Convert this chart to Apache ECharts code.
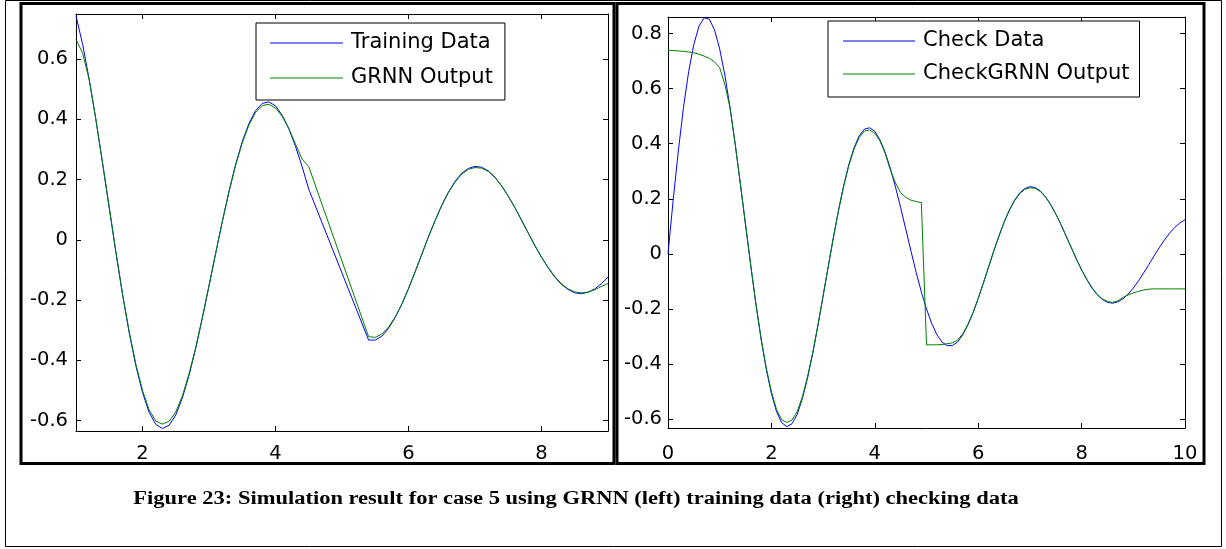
<!DOCTYPE html>
<html><head><meta charset="utf-8">
<script src="https://cdn.jsdelivr.net/npm/echarts@6/dist/echarts.min.js"></script>
<style>html,body{margin:0;padding:0;background:#fff}#c{width:1226px;height:549px}</style>
</head><body><div id="c"></div>
<script>
// ---- Left panel: training data ----
const trainX = [1.0,1.1,1.2,1.3,1.4,1.5,1.6,1.7,1.8,1.9,2.0,2.1,2.2,2.3,2.4,2.5,2.6,2.7,2.8,2.9,3.0,3.1,3.2,3.3,3.4,3.5,3.6,3.7,3.8,3.9,4.0,4.1,4.2,4.3,4.4,4.5,
  5.4,5.5,5.6,5.7,5.8,5.9,6.0,6.1,6.2,6.3,6.4,6.5,6.6,6.7,6.8,6.9,7.0,7.1,7.2,7.3,7.4,7.5,7.6,7.7,7.8,7.9,8.0,8.1,8.2,8.3,8.4,8.5,8.6,8.7,8.8,8.9,9.0];
const trainingData = [0.744,0.649,0.531,0.398,0.253,0.105,-0.042,-0.182,-0.309,-0.418,-0.507,-0.573,-0.613,-0.627,-0.616,-0.582,-0.525,-0.450,-0.361,-0.260,-0.153,-0.045,0.061,0.161,0.250,0.326,0.386,0.429,0.453,0.458,0.445,0.414,0.369,0.311,0.243,0.168,
  -0.333,-0.333,-0.320,-0.294,-0.258,-0.214,-0.162,-0.106,-0.048,0.010,0.064,0.115,0.158,0.194,0.221,0.237,0.244,0.241,0.229,0.208,0.180,0.145,0.107,0.065,0.023,-0.019,-0.058,-0.093,-0.124,-0.148,-0.165,-0.176,-0.179,-0.174,-0.163,-0.146,-0.124];
const grnnOutput = [0.665,0.620,0.530,0.398,0.255,0.108,-0.040,-0.180,-0.305,-0.413,-0.500,-0.565,-0.602,-0.612,-0.603,-0.572,-0.518,-0.445,-0.358,-0.258,-0.152,-0.045,0.060,0.158,0.247,0.322,0.381,0.423,0.446,0.450,0.438,0.410,0.370,0.318,0.268,0.243,
  -0.322,-0.324,-0.313,-0.290,-0.256,-0.213,-0.162,-0.106,-0.048,0.010,0.064,0.114,0.157,0.192,0.218,0.234,0.240,0.238,0.227,0.207,0.179,0.145,0.107,0.065,0.023,-0.019,-0.057,-0.092,-0.122,-0.146,-0.163,-0.173,-0.176,-0.174,-0.166,-0.155,-0.145];

// ---- Right panel: checking data ----
const checkX = [0.0,0.1,0.2,0.3,0.4,0.5,0.6,0.7,0.8,0.9,1.0,1.1,1.2,1.3,1.4,1.5,1.6,1.7,1.8,1.9,2.0,2.1,2.2,2.3,2.4,2.5,2.6,2.7,2.8,2.9,3.0,3.1,3.2,3.3,3.4,3.5,3.6,3.7,3.8,3.9,4.0,4.1,4.2,4.3,4.4,4.5,4.6,4.7,4.8,4.9,5.0,5.1,5.2,5.3,5.4,5.5,5.6,5.7,5.8,5.9,6.0,6.1,6.2,6.3,6.4,6.5,6.6,6.7,6.8,6.9,7.0,7.1,7.2,7.3,7.4,7.5,7.6,7.7,7.8,7.9,8.0,8.1,8.2,8.3,8.4,8.5,8.6,8.7,8.8,8.9,9.0,9.1,9.2,9.3,9.4,9.5,9.6,9.7,9.8,9.9,10.0];
const checkData = [0,0.195,0.374,0.532,0.662,0.761,0.827,0.857,0.852,0.813,0.744,0.649,0.531,0.398,0.253,0.105,-0.042,-0.182,-0.309,-0.418,-0.507,-0.573,-0.613,-0.627,-0.616,-0.582,-0.525,-0.450,-0.361,-0.260,-0.153,-0.045,0.061,0.161,0.250,0.326,0.386,0.429,0.453,0.458,0.445,0.414,0.369,0.311,0.243,0.168,0.089,0.010,-0.067,-0.138,-0.200,-0.252,-0.293,-0.320,-0.333,-0.333,-0.320,-0.294,-0.258,-0.214,-0.162,-0.106,-0.048,0.010,0.064,0.115,0.158,0.194,0.221,0.237,0.244,0.241,0.229,0.208,0.180,0.145,0.107,0.065,0.023,-0.019,-0.058,-0.093,-0.124,-0.148,-0.165,-0.176,-0.179,-0.174,-0.163,-0.146,-0.124,-0.098,-0.069,-0.039,-0.008,0.022,0.050,0.075,0.096,0.112,0.124];
const checkGrnnOutput = [0.738,0.738,0.737,0.735,0.733,0.730,0.725,0.718,0.710,0.697,0.676,0.615,0.530,0.398,0.254,0.107,-0.040,-0.180,-0.305,-0.413,-0.500,-0.565,-0.602,-0.612,-0.603,-0.572,-0.518,-0.445,-0.358,-0.258,-0.152,-0.045,0.060,0.158,0.247,0.322,0.381,0.423,0.446,0.450,0.438,0.410,0.365,0.305,0.258,0.222,0.205,0.195,0.190,0.186,-0.330,-0.330,-0.330,-0.329,-0.326,-0.323,-0.313,-0.290,-0.256,-0.213,-0.162,-0.106,-0.048,0.010,0.064,0.114,0.157,0.192,0.218,0.234,0.240,0.238,0.227,0.207,0.179,0.145,0.107,0.065,0.023,-0.019,-0.057,-0.092,-0.122,-0.146,-0.163,-0.173,-0.176,-0.171,-0.158,-0.149,-0.142,-0.136,-0.131,-0.128,-0.127,-0.127,-0.127,-0.127,-0.127,-0.127,-0.127];

// ---- Tick labels ----
const leftXTicks = [2,4,6,8];
const leftYTicks = [-0.6,-0.4,-0.2,0,0.2,0.4,0.6];
const rightXTicks = [0,2,4,6,8,10];
const rightYTicks = [-0.6,-0.4,-0.2,0,0.2,0.4,0.6,0.8];
const leftRange = {xMin:1, xMax:9, yMin:-0.635, yMax:0.75};
const rightRange = {xMin:0, xMax:10, yMin:-0.632, yMax:0.86};
const captionText = 'Figure 23: Simulation result for case 5 using GRNN (left) training data (right) checking data';

const pair = (xs, ys) => xs.map((x, i) => [x, ys[i]]);
const fmt = v => String(Math.round(v * 10) / 10);
const labelFont = {fontFamily:'DejaVu Sans', fontSize:19.5, color:'#000'};

function xAxis(grid, r, ticks, pos, show, margin) {
  return {type:'value', gridIndex:grid, position:pos, min:r.xMin, max:r.xMax,
    axisLine:{show:true, onZero:false, lineStyle:{color:'#000', width:1}},
    axisTick:{show:true, inside:true, length:5, customValues:ticks, lineStyle:{color:'#000'}},
    axisLabel:{show:show, customValues:ticks, margin:margin, formatter:fmt, ...labelFont},
    splitLine:{show:false}};
}
function yAxis(grid, r, ticks, pos, show, margin) {
  return {type:'value', gridIndex:grid, position:pos, min:r.yMin, max:r.yMax,
    axisLine:{show:true, onZero:false, lineStyle:{color:'#000', width:1}},
    axisTick:{show:true, inside:true, length:5, customValues:ticks, lineStyle:{color:'#000'}},
    axisLabel:{show:show, customValues:ticks, margin:margin, formatter:fmt, ...labelFont},
    splitLine:{show:false}};
}
function line(name, data, color, xi, yi) {
  return {type:'line', name, data, xAxisIndex:xi, yAxisIndex:yi, showSymbol:false, symbol:'none',
    lineStyle:{color, width:1}, itemStyle:{color}, animation:false, silent:true};
}
const legendText = {fontFamily:'DejaVu Sans', fontSize:21, color:'#000', lineHeight:24, padding:[0,0,0,3]};

const chart = echarts.init(document.getElementById('c'), null, {renderer:'canvas'});
chart.setOption({
  backgroundColor:'#fff',
  animation:false,
  grid:[
    {left:76, top:14, width:532, height:417},
    {left:668, top:17, width:517, height:411}
  ],
  xAxis:[
    xAxis(0, leftRange, leftXTicks, 'bottom', true, 13),
    xAxis(0, leftRange, leftXTicks, 'top', false, 8),
    xAxis(1, rightRange, rightXTicks, 'bottom', true, 16),
    xAxis(1, rightRange, rightXTicks, 'top', false, 8)
  ],
  yAxis:[
    yAxis(0, leftRange, leftYTicks, 'left', true, 8),
    yAxis(0, leftRange, leftYTicks, 'right', false, 8),
    yAxis(1, rightRange, rightYTicks, 'left', true, 6),
    yAxis(1, rightRange, rightYTicks, 'right', false, 6)
  ],
  legend:[
    {orient:'vertical', left:256, top:23, data:['Training Data','GRNN Output'], padding:[8,12,10,14],
      icon:'rect', itemGap:11, itemWidth:73, itemHeight:1, borderColor:'#000', borderWidth:1, backgroundColor:'#fff',
      textStyle:legendText, selectedMode:false},
    {orient:'vertical', left:828, top:21, data:['Check Data','CheckGRNN Output'], padding:[8,10,11,15],
      icon:'rect', itemGap:9, itemWidth:72, itemHeight:1, borderColor:'#000', borderWidth:1, backgroundColor:'#fff',
      textStyle:legendText, selectedMode:false}
  ],
  series:[
    line('Training Data', pair(trainX, trainingData), '#0000ff', 0, 0),
    line('GRNN Output', pair(trainX, grnnOutput), '#008000', 0, 0),
    line('Check Data', pair(checkX, checkData), '#0000ff', 2, 2),
    line('CheckGRNN Output', pair(checkX, checkGrnnOutput), '#008000', 2, 2)
  ],
  graphic:[
    {type:'rect', silent:true, shape:{x:5.5, y:0.5, width:1216, height:546}, style:{fill:null, stroke:'#000', lineWidth:1}},
    {type:'rect', silent:true, shape:{x:21, y:3.5, width:593, height:460}, style:{fill:null, stroke:'#000', lineWidth:3}},
    {type:'rect', silent:true, shape:{x:617, y:3.5, width:587, height:460}, style:{fill:null, stroke:'#000', lineWidth:3}},
    {type:'text', silent:true, x:576, y:499, scaleX:1.25,
      style:{text:captionText, font:'bold 18px "Liberation Serif"', fill:'#000',
        align:'center', verticalAlign:'middle', textAlign:'center', textVerticalAlign:'middle'}}
  ]
});
</script></body></html>
